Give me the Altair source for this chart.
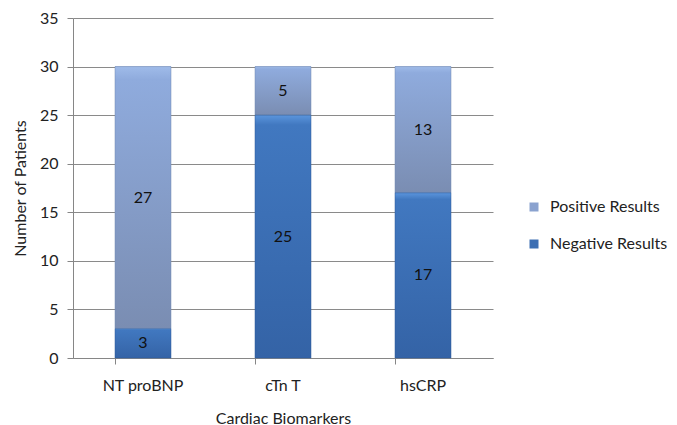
import altair as alt
import pandas as pd

markers = ["NT proBNP", "cTn T", "hsCRP"]
negative = [3, 25, 17]
positive = [27, 5, 13]
series = ["Positive Results", "Negative Results"]

rows = []
for m, n, p in zip(markers, negative, positive):
    rows.append({"marker": m, "series": "Negative Results", "count": n, "ord": 0})
    rows.append({"marker": m, "series": "Positive Results", "count": p, "ord": 1})
df = pd.DataFrame(rows)

FONT = "Lato"

base = alt.Chart(df).transform_stack(
    stack="count", groupby=["marker"], as_=["y0", "y1"], sort=[{"field": "ord", "order": "ascending"}]
).transform_calculate(mid="(datum.y0 + datum.y1) / 2")

x = alt.X("marker:N", sort=markers, title="Cardiac Biomarkers",
          scale=alt.Scale(paddingInner=0.6, paddingOuter=0.3),
          axis=alt.Axis(labelAngle=0, bandPosition=0, tickSize=6, ticks=True,
                        domainColor="#868686", tickColor="#868686",
                        labelPadding=13, titlePadding=17))
y = alt.Y("y0:Q", title="Number of Patients",
          scale=alt.Scale(domain=[0, 35], nice=False),
          axis=alt.Axis(values=list(range(0, 36, 5)), tickSize=6,
                        domainColor="#868686", tickColor="#868686",
                        gridColor="#8a8a8a", labelPadding=9, titlePadding=11))

legend_bars = base.mark_bar().encode(
    x=x, y=y, y2="y1:Q",
    color=alt.Color("series:N", sort=series,
                    scale=alt.Scale(domain=series, range=["#8aa2cf", "#3d6fb3"]),
                    legend=alt.Legend(title=None, orient="none", legendX=453, legendY=181,
                                      symbolType="square", symbolSize=81, symbolStrokeWidth=0,
                                      labelFontSize=16, labelFont=FONT, rowPadding=21,
                                      labelOffset=8, labelColor="#222")),
)

pos_grad = alt.Gradient(gradient="linear", x1=0, x2=0, y1=0, y2=1, stops=[
    alt.GradientStop(offset=0, color="#9fbbe9"),
    alt.GradientStop(offset=0.05, color="#8fabdd"),
    alt.GradientStop(offset=1, color="#7a8db2")])
neg_grad = alt.Gradient(gradient="linear", x1=0, x2=0, y1=0, y2=1, stops=[
    alt.GradientStop(offset=0, color="#5b95dc"),
    alt.GradientStop(offset=0.04, color="#4178c0"),
    alt.GradientStop(offset=1, color="#3463a6")])

pos_bars = base.transform_filter("datum.series == 'Positive Results'").mark_bar(
    color=pos_grad, stroke="#7088b0", strokeWidth=0.5).encode(x=x, y=y, y2="y1:Q")
neg_bars = base.transform_filter("datum.series == 'Negative Results'").mark_bar(
    color=neg_grad, stroke="#2f5a99", strokeWidth=0.5).encode(x=x, y=y, y2="y1:Q")

labels = base.mark_text(font=FONT, fontSize=16, color="#111").encode(
    x=alt.X("marker:N", sort=markers), y=alt.Y("mid:Q"), text="count:Q")

chart = alt.layer(legend_bars, pos_bars, neg_bars, labels).properties(
    width=420, height=340, padding={"left": 73, "top": 18, "right": 184, "bottom": 67},
    autosize=alt.AutoSizeParams(type="none"),
).configure_view(stroke=None).configure_axis(
    labelFont=FONT, titleFont=FONT, labelFontSize=16, titleFontSize=16,
    titleFontWeight="normal", labelColor="#222", titleColor="#222"
)

chart.save("out.html", embed_options={"renderer": "svg", "actions": False})
